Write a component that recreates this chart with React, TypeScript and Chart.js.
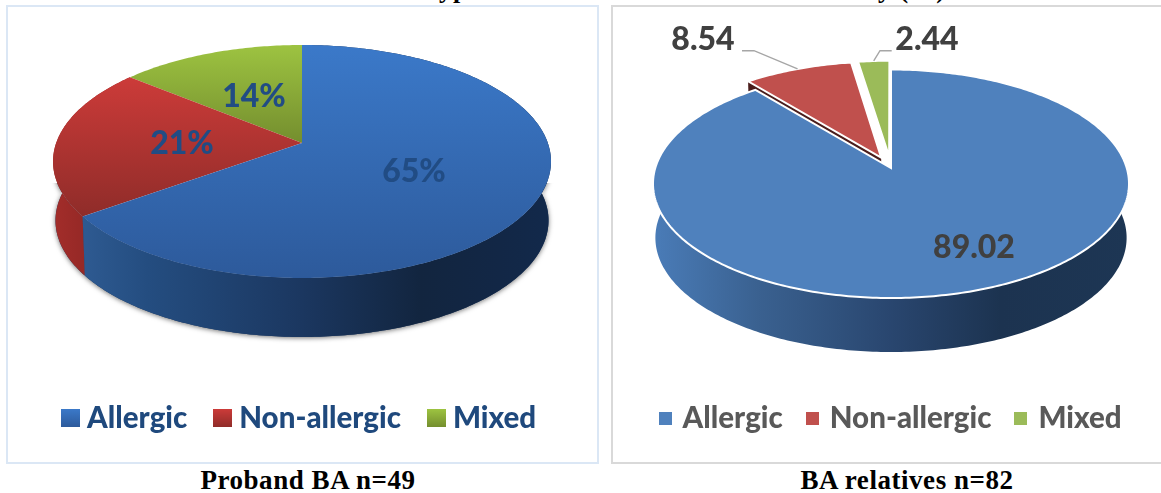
import { useEffect, useRef } from "react";
import { Chart, registerables } from "chart.js";

Chart.register(...registerables);

const categories = ["Allergic", "Non-allergic", "Mixed"];
const probandValues = [65, 21, 14];
const relativeValues = [89.02, 8.54, 2.44];
const relativeOffsets = [0, 18, 18];

type Stop = [number, string];

const probandTop: [string, string][] = [
  ["#3b79c9", "#2d5a9b"],
  ["#cc3b39", "#8f2c29"],
  ["#9dc341", "#748e2e"],
];
const probandWall: Stop[][] = [
  [[0, "#34669f"], [0.06, "#2e5a91"], [0.19, "#244d80"], [0.5, "#1b3760"], [0.74, "#12253f"], [0.9, "#122746"], [1, "#12294b"]],
  [[0, "#a32d2a"], [0.1, "#8e2624"], [1, "#7a2220"]],
  [[0, "#7a9630"], [1, "#5f7524"]],
];
const relativeTop = ["#4f81bd", "#c0504d", "#9bbb59"];
const relativeWall: Stop[][] = [
  [[0, "#4a7cb8"], [0.22, "#3a6190"], [0.5, "#29466f"], [0.73, "#1c3350"], [1, "#1d3654"]],
  [[0, "#4a1d1c"], [1, "#4a1d1c"]],
  [[0, "#5f7436"], [1, "#5f7436"]],
];

// Perspective of a tilted disc: radial units go in, pixels come out.
type Tilt = {
  cx: number;
  apexY: number;
  halfWidth: number;
  far: number;
  near: number;
  depth: number;
  taper: number;
};

type PieStyle = {
  tilt: Tilt;
  tops: (string | [string, string])[];
  walls: Stop[][];
  shadow: boolean;
  labelColors: string[];
  labelText: (v: number) => string;
  labelFont: string;
  labelAnchors: [number, number][];
  leaders?: ([number, number][] | null)[];
  leaderColor?: string;
};

const makeProjector = (t: Tilt) => {
  const ratio = t.near / t.far;
  const p = (ratio - 1) / (ratio + 1);
  const h = t.near * (1 - p);
  const r = t.halfWidth * Math.sqrt(1 - p * p);
  const top = (x: number, y: number) => {
    const d = 1 - p * y;
    return { x: t.cx + (r * x) / d, y: t.apexY + (h * y) / d };
  };
  const bottom = (x: number, y: number) => {
    const q = top(x, y);
    return { x: t.cx + (q.x - t.cx) * t.taper, y: q.y + t.depth };
  };
  return { top, bottom };
};

const tiltedPie = {
  id: "tiltedPie",
  beforeDatasetDraw(chart: any, _args: any, opts: any) {
    const style: PieStyle = opts.style;
    const { ctx, width } = chart;
    const { top, bottom } = makeProjector(style.tilt);
    const arcs = chart.getDatasetMeta(0).data as any[];
    const t = style.tilt;

    const slices = arcs.map((arc, i) => {
      const off = (arc.options.offset || 0) / arc.outerRadius;
      const mid = (arc.startAngle + arc.endAngle) / 2;
      const ox = off * Math.cos(mid);
      const oy = off * Math.sin(mid);
      const steps = Math.max(4, Math.ceil((arc.endAngle - arc.startAngle) / 0.015));
      const rim: [number, number][] = [];
      for (let s = 0; s <= steps; s++) {
        const a = arc.startAngle + ((arc.endAngle - arc.startAngle) * s) / steps;
        rim.push([ox + Math.cos(a), oy + Math.sin(a)]);
      }
      const faces = rim.some(([, y]) => y > 0);
      return { i, arc, off, ox, oy, rim, faces };
    });

    const trace = (pts: { x: number; y: number }[]) => {
      ctx.beginPath();
      pts.forEach((q, k) => (k ? ctx.lineTo(q.x, q.y) : ctx.moveTo(q.x, q.y)));
      ctx.closePath();
    };
    const band = (s: any) => [
      ...s.rim.map(([x, y]: number[]) => top(x, y)),
      ...[...s.rim].reverse().map(([x, y]: number[]) => bottom(x, y)),
    ];

    ctx.save();
    if (style.shadow) {
      ctx.save();
      ctx.beginPath();
      ctx.rect(0, t.apexY + 40, width, chart.height);
      ctx.clip();
      ctx.shadowColor = "rgba(0,0,0,0.55)";
      ctx.shadowBlur = 5;
      ctx.shadowOffsetY = 1;
      ctx.fillStyle = "#1b3760";
      slices.filter((s) => s.faces).forEach((s) => {
        trace(band(s));
        ctx.fill();
      });
      ctx.restore();
    }

    // Slices pulled further out sit behind the rest of the disc.
    const order = [...slices].sort((a, b) => b.off - a.off || b.i - a.i);
    order.forEach((s) => {
      const wall = ctx.createLinearGradient(t.cx - t.halfWidth, 0, t.cx + t.halfWidth, 0);
      style.walls[s.i].forEach(([pos, c]) => wall.addColorStop(pos, c));
      ctx.fillStyle = wall;
      if (s.faces) {
        trace(band(s));
        ctx.fill();
      }

      const prev = slices[(s.i + slices.length - 1) % slices.length];
      if (s.off > 0 && prev.off === 0) {
        const [sx, sy] = s.rim[0];
        trace([top(s.ox, s.oy), top(sx, sy), bottom(sx, sy), bottom(s.ox, s.oy)]);
        ctx.fill();
      }

      const outline = [top(s.ox, s.oy), ...s.rim.map(([x, y]: number[]) => top(x, y))];
      const ys = outline.map((q) => q.y);
      const shade = style.tops[s.i];
      if (Array.isArray(shade)) {
        const g = ctx.createLinearGradient(0, Math.min(...ys), 0, Math.max(...ys));
        g.addColorStop(0, shade[0]);
        g.addColorStop(1, shade[1]);
        ctx.fillStyle = g;
      } else {
        ctx.fillStyle = shade;
      }
      trace(outline);
      ctx.fill();
      if (s.arc.options.borderWidth > 0) {
        ctx.strokeStyle = s.arc.options.borderColor;
        ctx.lineWidth = s.arc.options.borderWidth;
        ctx.lineJoin = "miter";
        ctx.stroke();
      }
    });
    ctx.restore();
    return false;
  },
  afterDatasetsDraw(chart: any, _args: any, opts: any) {
    const style: PieStyle = opts.style;
    const { ctx } = chart;
    const { top } = makeProjector(style.tilt);
    const t = style.tilt;
    const arcs = chart.getDatasetMeta(0).data as any[];
    const values = chart.data.datasets[0].data as number[];

    ctx.save();
    arcs.forEach((arc, i) => {
      const off = (arc.options.offset || 0) / arc.outerRadius;
      const mid = (arc.startAngle + arc.endAngle) / 2;

      const leader = style.leaders?.[i];
      if (leader) {
        const end = top(Math.cos(mid) * (1 + off), Math.sin(mid) * (1 + off));
        ctx.strokeStyle = style.leaderColor;
        ctx.lineWidth = 1.4;
        ctx.beginPath();
        leader.forEach(([dx, dy], k) => {
          const x = t.cx + dx;
          const y = t.apexY + dy;
          if (k) ctx.lineTo(x, y);
          else ctx.moveTo(x, y);
        });
        ctx.lineTo(end.x, end.y);
        ctx.stroke();
      }

      const [ax, ay] = style.labelAnchors[i];
      ctx.font = style.labelFont;
      ctx.textAlign = "center";
      ctx.textBaseline = "middle";
      ctx.fillStyle = style.labelColors[i];
      ctx.fillText(style.labelText(values[i]), t.cx + ax, t.apexY + ay);
    });
    ctx.restore();
  },
};

const swatch = (w: number, h: number, fill: string | [string, string]) => {
  const c = document.createElement("canvas");
  c.width = w;
  c.height = h;
  const g = c.getContext("2d")!;
  if (Array.isArray(fill)) {
    const lg = g.createLinearGradient(0, 0, 0, h);
    lg.addColorStop(0, fill[0]);
    lg.addColorStop(1, fill[1]);
    g.fillStyle = lg;
  } else {
    g.fillStyle = fill;
  }
  g.fillRect(0, 0, w, h);
  return c;
};

const legendOptions = (
  color: string,
  fills: (string | [string, string])[],
  w: number,
  h: number,
  boxWidth: number,
  padding: number
) => ({
  position: "bottom" as const,
  labels: {
    color,
    padding,
    boxWidth,
    boxHeight: h,
    usePointStyle: true,
    pointStyleWidth: boxWidth,
    font: { family: "Lato", weight: "900" as any, size: 29.5 },
    generateLabels: () =>
      categories.map((text, i) => ({
        text,
        index: i,
        hidden: false,
        fontColor: color,
        fillStyle: "transparent",
        strokeStyle: "transparent",
        lineWidth: 0,
        pointStyle: swatch(w, h, fills[i]),
      })),
  },
});

const probandStyle: PieStyle = {
  tilt: { cx: 294, apexY: 136, halfWidth: 249, far: 98, near: 135, depth: 59, taper: 0.99 },
  tops: probandTop,
  walls: probandWall,
  shadow: true,
  labelColors: ["#214c84", "#214c84", "#214c84"],
  labelText: (v) => `${v}%`,
  labelFont: "900 32px Lato",
  labelAnchors: [[112, 28.5], [-120, 0.6], [-48, -46]],
};

const relativeStyle: PieStyle = {
  tilt: { cx: 278, apexY: 161, halfWidth: 238, far: 98.5, near: 130, depth: 54, taper: 0.99 },
  tops: relativeTop,
  walls: relativeWall,
  shadow: false,
  labelColors: ["#404040", "#404040", "#404040"],
  labelText: (v) => v.toFixed(2),
  labelFont: "900 32px Lato",
  labelAnchors: [[83, 80], [-188, -128.5], [36, -128.5]],
  leaders: [
    null,
    [[-149, -117.3], [-137, -117.3]],
    [[0.7, -117.3], [-11, -117.3]],
  ],
  leaderColor: "#a6a6a6",
};

function Pie3D(props: {
  width: number;
  height: number;
  values: number[];
  offsets?: number[];
  border: number;
  style: PieStyle;
  legend: any;
  paddingBottom: number;
}) {
  const ref = useRef<HTMLCanvasElement>(null);
  useEffect(() => {
    const chart = new Chart(ref.current!, {
      type: "pie",
      data: {
        labels: categories,
        datasets: [
          {
            data: props.values,
            offset: props.offsets ?? 0,
            borderWidth: props.border,
            borderColor: "#ffffff",
            backgroundColor: props.style.tops.map((c) => (Array.isArray(c) ? c[0] : c)),
          },
        ],
      },
      options: {
        responsive: false,
        animation: false,
        events: [],
        layout: { padding: { bottom: props.paddingBottom } },
        plugins: {
          legend: props.legend,
          tooltip: { enabled: false },
          tiltedPie: { style: props.style },
        },
      } as any,
      plugins: [tiltedPie],
    } as any);
    return () => chart.destroy();
  }, []);
  return <canvas ref={ref} width={props.width} height={props.height} style={{ display: "block" }} />;
}

const captionStyle = {
  position: "absolute" as const,
  top: 466,
  fontFamily: "'Liberation Serif', serif",
  fontWeight: 700,
  fontSize: 27,
  letterSpacing: "0.55px",
  lineHeight: "28px",
  color: "#000",
  whiteSpace: "nowrap" as const,
  transform: "translateX(-50%)",
};

const headingStyle = {
  position: "absolute" as const,
  top: -22,
  fontFamily: "'Liberation Serif', serif",
  fontWeight: 700,
  fontSize: 26,
  letterSpacing: "1px",
  lineHeight: "24px",
  color: "#000",
  whiteSpace: "nowrap" as const,
};

export default function App() {
  return (
    <div style={{ position: "absolute", left: 0, top: 0, width: 1161, height: 493, overflow: "hidden", background: "#fff" }}>
      <div style={{ ...headingStyle, left: 439 }}>yp</div>
      <div style={{ ...headingStyle, left: 878 }}>y (%)</div>
      <div style={{ position: "absolute", left: 6, top: 5, width: 589, height: 455, border: "2px solid #dbe7f5" }}>
        <Pie3D
          width={589}
          height={455}
          values={probandValues}
          border={0}
          style={probandStyle}
          legend={legendOptions("#1f497d", probandTop, 19, 18, 3.5, 33.75)}
          paddingBottom={19}
        />
      </div>
      <div style={{ position: "absolute", left: 611, top: 5, width: 558, height: 455, border: "2px solid #d9d9d9" }}>
        <Pie3D
          width={558}
          height={455}
          values={relativeValues}
          offsets={relativeOffsets}
          border={2}
          style={relativeStyle}
          legend={legendOptions("#595959", relativeTop, 13, 13, 5.5, 26.75)}
          paddingBottom={19}
        />
      </div>
      <div style={{ ...captionStyle, left: 308 }}>Proband BA n=49</div>
      <div style={{ ...captionStyle, left: 907 }}>BA relatives n=82</div>
    </div>
  );
}
